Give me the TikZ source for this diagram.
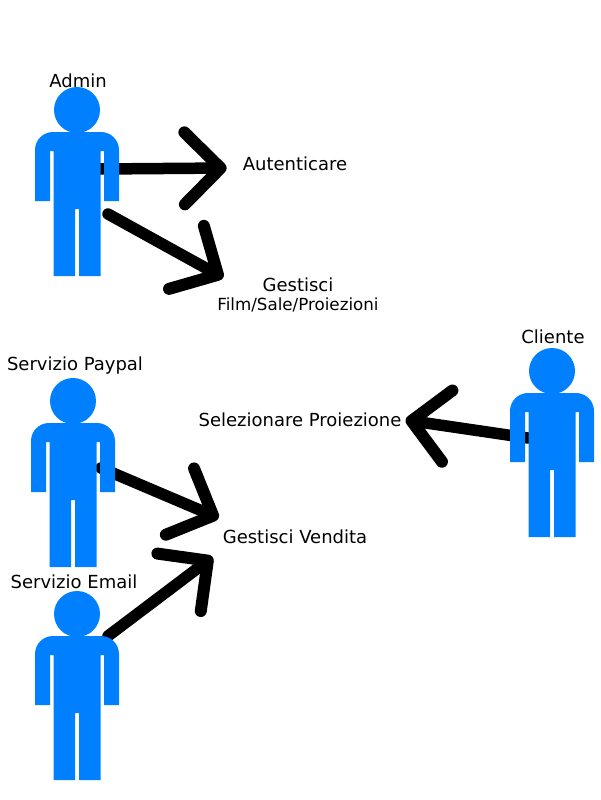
\documentclass[tikz,border=0pt]{standalone}
\usepackage{fontspec}
\setmainfont{DejaVu Sans}
\usepackage{tikz}
\usetikzlibrary{backgrounds}
\usetikzlibrary{arrows.meta}
\definecolor{actorblue}{HTML}{0080FF}
\tikzstyle{usecase} = [inner sep=0pt, align=center, font=\fontsize{18}{22}\selectfont]
\tikzstyle{line} = [draw, line width=11.5pt, line cap=round, -{Straight Barb[length=36pt,width=72pt,line width=12pt,round]}]
\tikzset{
  actor/.pic={
    \fill[actorblue] (0,0) circle (23);
    \fill[actorblue] (-42,91) [rounded corners=18] -- (-42,22) -- (42,22) [sharp corners] -- (42,91) -- (27,91) -- (27,41) -- (23.5,41) -- (23.5,166) -- (2,166) -- (2,99) -- (-2,99) -- (-2,166) -- (-23.5,166) -- (-23.5,41) -- (-27,41) -- (-27,91) -- cycle;
    \coordinate (-hip) at (0,50);
  }
}

\begin{document}
\begin{tikzpicture}[x=1pt,y=-1pt]
\useasboundingbox (0,0) rectangle (600,800);

% actors
\pic (admin) at (77,110) {actor};
\pic (paypal) at (73,401) {actor};
\pic (email) at (77,614) {actor};
\pic (cliente) at (552,371) {actor};

\node [usecase] (adminname) at (78,81) {Admin};
\node [usecase] (paypalname) at (75,366) {Servizio Paypal};
\node [usecase] (emailname) at (74,582) {Servizio Email};
\node [usecase] (clientename) at (553,337) {Cliente};

% use cases
\node [usecase] (autenticare) at (295,164) {Autenticare};
\node [usecase] (gestisci) at (298,295) {Gestisci\\[-3pt]{\fontsize{16.7}{20}\selectfont Film/Sale/Proiezioni}};
\node [usecase] (selezionare) at (300,420) {Selezionare Proiezione};
\node [usecase] (vendita) at (295,537) {Gestisci Vendita};

\begin{scope}[on background layer]
\draw[line] ([shift={(23,9)}]admin-hip) -- ([shift={(-16,4)}]autenticare.west);
\draw[line] ([shift={(31,54)}]admin-hip) -- ([shift={(6,0)}]gestisci.north west);
\draw[line] ([shift={(28,17)}]paypal-hip) -- ([shift={(-4,-19)}]vendita.west);
\draw[line] ([shift={(31,-28)}]email-hip) -- ([shift={(-10,20)}]vendita.west);
\draw[line] ([shift={(-24,17)}]cliente-hip) -- ([shift={(4,0)}]selezionare.east);
\end{scope}

\end{tikzpicture}
\end{document}
